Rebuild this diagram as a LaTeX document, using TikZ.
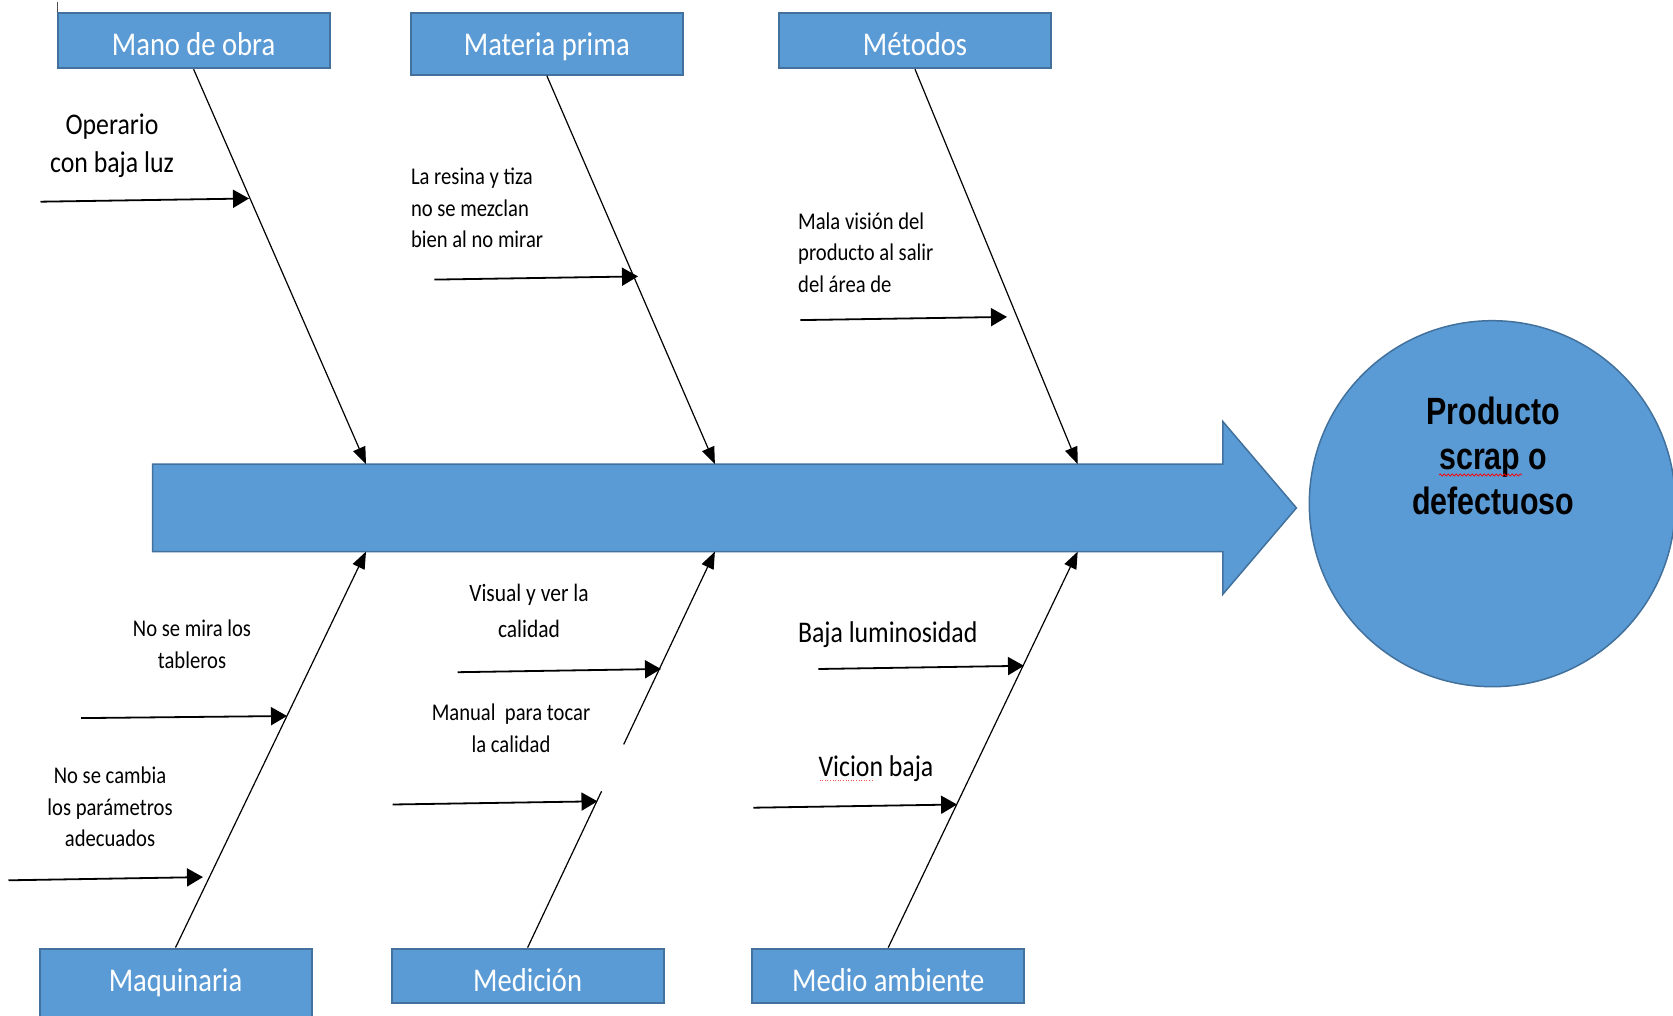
\documentclass[tikz,border=0pt]{standalone}
\usepackage{fontspec}
\setmainfont{Carlito}
\newfontfamily\calfont[FakeStretch=0.86]{Carlito}
\newfontfamily\arfont[FakeStretch=0.8]{Liberation Sans}
\usetikzlibrary{arrows.meta,shapes.geometric,decorations.pathmorphing}
\definecolor{boxblue}{HTML}{5B9BD5}
\definecolor{boxedge}{HTML}{41719C}
\newcommand\boxlbl[2]{\smash{\raisebox{#1}{#2}}}
\begin{document}
\begin{tikzpicture}[x=1pt,y=-1pt,
  catbox/.style={draw=boxedge,line width=2pt,fill=boxblue,minimum width=272pt,inner sep=0pt,text=white,font=\calfont\fontsize{33.2}{38}\selectfont},
  bone/.style={line width=1.2pt,-{Triangle[length=17pt,width=13pt]}},
  cause/.style={line width=1.8pt,-{Triangle[length=16pt,width=18pt]}},
  smalltxt/.style={font=\calfont\fontsize{24}{31.5}\selectfont,inner sep=0pt},
  midtxt/.style={font=\calfont\fontsize{30}{38.4}\selectfont,inner sep=0pt}]
\useasboundingbox (0,0) rectangle (1673,1016);
\begin{scope}
\clip (0,0) rectangle (1673,1016);
\fill[white] (0,0) rectangle (1673,1016);

% tiny mark
\draw[line width=0.8pt,black!70] (57,2) -- (57,14);

% main arrow
\draw[boxedge,line width=1.5pt,fill=boxblue] (152.6,464.1) -- (1222.8,464.1) -- (1222.8,421.5) -- (1296.4,507.9) -- (1222.8,594.3) -- (1222.8,551.6) -- (152.6,551.6) -- cycle;

% effect
\node[circle,draw=boxedge,line width=1.5pt,fill=boxblue,minimum size=366pt,inner sep=0pt] (goal) at (1492.3,503.7) {};
\node[align=center,inner sep=0pt,font=\arfont\bfseries\fontsize{38}{44.8}\selectfont] (goaltext) at (1493.3,456) {Producto\\scrap o\\defectuoso};
\draw[red,line width=0.7pt,decorate,decoration={snake,segment length=4pt,amplitude=1.2pt}] (1439,475) -- (1522,475);

% category boxes
\node[catbox,minimum height=55.5pt] (mano) at (193.6,40.5) {\boxlbl{-15.3pt}{Mano de obra}};
\node[catbox,minimum height=62pt] (materia) at (546.8,43.7) {\boxlbl{-12.1pt}{Materia prima}};
\node[catbox,minimum height=55.5pt] (metodos) at (915,40.5) {\boxlbl{-15.3pt}{Métodos}};
\node[catbox,minimum height=80pt] (maquinaria) at (175.5,988.6) {\boxlbl{-3pt}{Maquinaria}};
\node[catbox,minimum height=54.4pt] (medicion) at (527.6,975.8) {\boxlbl{-15.8pt}{Medición}};
\node[catbox,minimum height=54.4pt] (medio) at (888.2,975.8) {\boxlbl{-15.8pt}{Medio ambiente}};

% tips on the spine
\coordinate (t1) at (366,464.1);
\coordinate (t2) at (714.9,464.1);
\coordinate (t3) at (1077.7,464.1);
\coordinate (b1) at (366,551.6);
\coordinate (b2) at (714.9,551.6);
\coordinate (b3) at (1077.7,551.6);

% bones
\draw[bone] (mano.south) -- (t1);
\draw[bone] (materia.south) -- (t2);
\draw[bone] (metodos.south) -- (t3);
\draw[bone] (maquinaria.north) -- (b1);
\path (medicion.north) -- (b2) coordinate[pos=0.395] (g1) coordinate[pos=0.513] (g2);
\draw[line width=1.2pt] (medicion.north) -- (g1);
\draw[bone] (g2) -- (b2);
\draw[bone] (medio.north) -- (b3);

% cause arrows
\coordinate (s1) at (40.5,201.7);   \coordinate (e1) at (249,198.5);
\coordinate (s2) at (434.3,279.6);  \coordinate (e2) at (638,276.4);
\coordinate (s3) at (800.3,320.1);  \coordinate (e3) at (1007,316.9);
\coordinate (s4) at (81.1,718.1);   \coordinate (e4) at (287,716);
\coordinate (s5) at (8.5,880.3);    \coordinate (e5) at (203,877.1);
\coordinate (s6) at (457.7,672.2);  \coordinate (e6) at (661,669);
\coordinate (s7) at (392.7,804.5);  \coordinate (e7) at (597.5,801.3);
\coordinate (s8) at (818.4,669);    \coordinate (e8) at (1024,665.8);
\coordinate (s9) at (753.3,807.7);  \coordinate (e9) at (957.1,804.5);
\foreach \i in {1,...,9} {\draw[cause] (s\i) -- (e\i);}

% cause texts
\node[midtxt,align=center] (txt1) at (112,146) {Operario\\con baja luz};
\node[smalltxt,align=left,anchor=west] (txt2) at (410.8,208) {La resina y tiza\\no se mezclan\\bien al no mirar};
\node[smalltxt,align=left,anchor=west] (txt3) at (798,252.5) {Mala visión del\\producto al salir\\del área de};
\node[smalltxt,align=center] (txt4) at (192,644.5) {No se mira los\\tableros};
\node[smalltxt,align=center] (txt5) at (110,807) {No se cambia\\los parámetros\\adecuados};
\node[font=\calfont\fontsize{25}{36}\selectfont,inner sep=0pt,align=center] (txt6) at (529,611) {Visual y ver la\\calidad};
\node[smalltxt,align=center] (txt7) at (511,728.5) {Manual\ \ para tocar\\la calidad};
\node[midtxt] (txt8) at (887.7,634.5) {Baja luminosidad};
\node[midtxt] (txt9) at (876,769) {Vicion baja};
\draw[red!70,line width=0.6pt,dotted] (819.5,780) -- (872.8,780);
\end{scope}
\end{tikzpicture}
\end{document}
